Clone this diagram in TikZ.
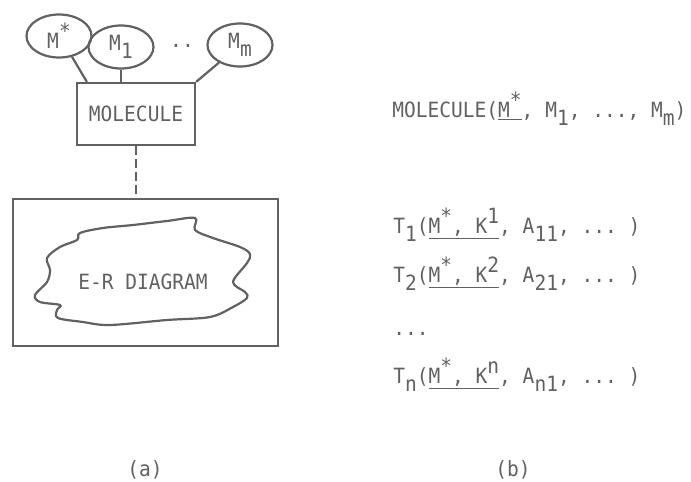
\documentclass[tikz,border=0pt]{standalone}
\usepackage{fontspec}
\setmonofont[FakeStretch=0.93]{DejaVu Sans Mono}
\usetikzlibrary{shapes.geometric,positioning}
\definecolor{ink}{gray}{0.38}
\newcommand\rup[1]{\raisebox{5pt}{#1}}
\newcommand\rdn[1]{\raisebox{-4pt}{#1}}
\tikzset{ln/.style={draw=ink,line width=1.1pt},ent/.style={ln,ellipse,minimum width=32.5pt,minimum height=21.5pt,inner sep=0pt},box/.style={ln,rectangle,inner sep=0pt},txt/.style={anchor=base west,inner sep=0pt}}

\begin{document}
\begin{tikzpicture}[x=0.5pt,y=-0.5pt,font=\ttfamily\fontsize{10.5}{12}\selectfont\frenchspacing,text=ink]
\useasboundingbox (0,0) rectangle (691,482);
% (a) the molecule over its E-R diagram
\node[ent](mstar)at(59,36){M\rup{*}};\node[ent](m1)at(121,47){M\rdn{1}};
\node[anchor=base](dots)at(182,47){..};\node[ent](mm)at(240,45){M\rdn{m}};
\node[box,minimum width=59pt,minimum height=31pt](molecule)at(136,114){MOLECULE};
\draw[ln](mstar.302)--([xshift=5.5pt]molecule.north west);
\draw[ln](m1.south)--(m1.south|-molecule.north);
\draw[ln](mm.220)--(molecule.north east);
\node[box,minimum width=132.5pt,minimum height=73.5pt](erframe)at(145.5,272.5){};
\draw[ln,dash pattern=on 4.5pt off 2pt](molecule.south)--(molecule.south|-erframe.north);
\draw[ln]plot[smooth cycle,tension=0.55]coordinates{(80,233)(103,228)(133,225)(167,221)(195,218)(195,230)(213,238)(240,247)(250,254)(247,263)(233,282)(245,292)(247,298)(233,307)(210,317)(167,320)(110,325)(83,322)(58,318)(57,310)(60,305)(40,302)(35,295)(47,282)(50,270)(47,258)(60,247)(77,240)};
\node(er)at(143,282){E-R DIAGRAM};
% (b) the relations
\node[txt](mol)at(392,117){MOLECULE(\underline{M\rup{*}}, M\rdn{1}, ..., M\rdn{m})};
\node[txt](t1)at(393,233){T\rdn{1}(\underline{M\rup{*}, K\rup{1}}, A\rdn{11}, ... )};
\node[txt](t2)at(393,282){T\rdn{2}(\underline{M\rup{*}, K\rup{2}}, A\rdn{21}, ... )};
\node[txt](etc)at(393,335){...};
\node[txt](tn)at(393,383){T\rdn{n}(\underline{M\rup{*}, K\rup{n}}, A\rdn{n1}, ... )};
\node(capa)at(145,470){(a)};\node(capb)at(513,470){(b)};
\end{tikzpicture}
\end{document}
